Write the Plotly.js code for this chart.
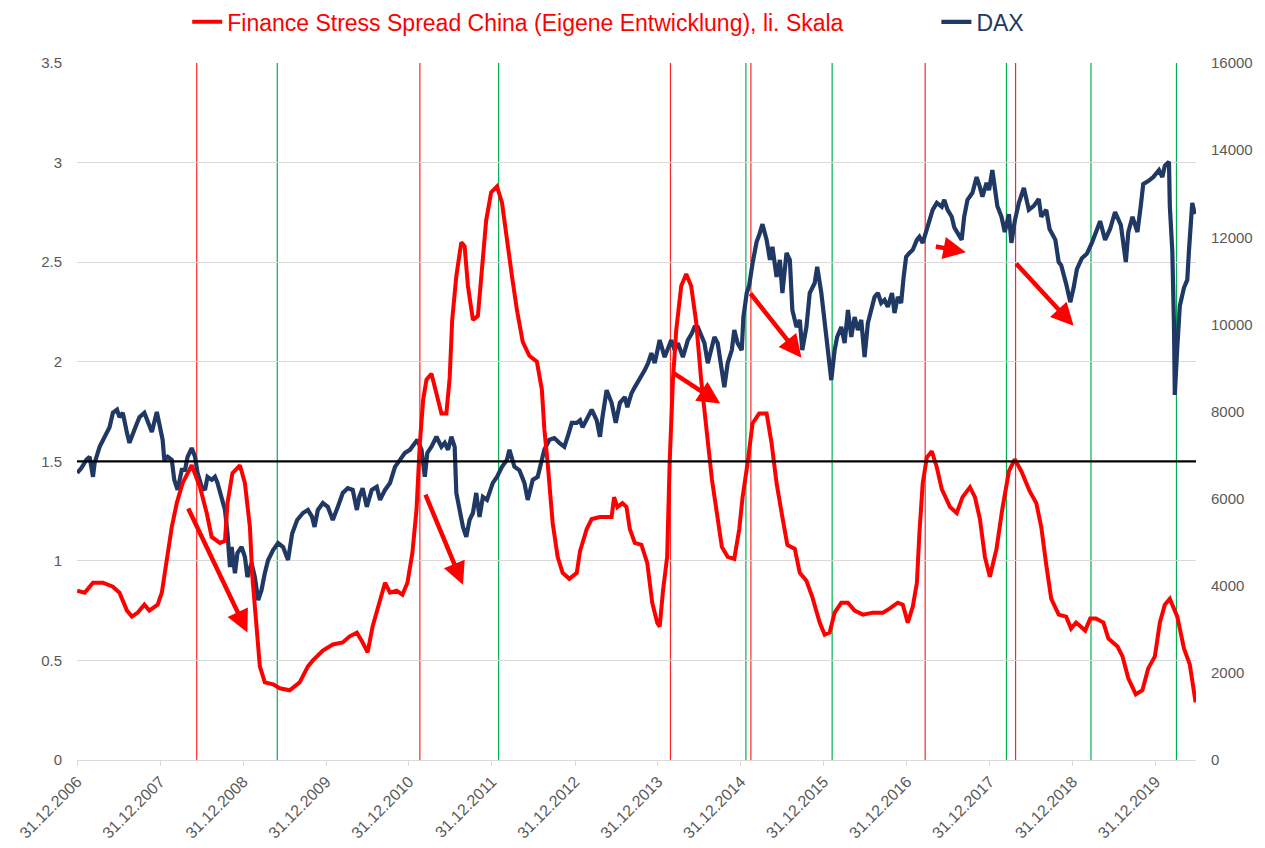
<!DOCTYPE html>
<html><head><meta charset="utf-8">
<script src="https://cdn.plot.ly/plotly-3.0.1.min.js"></script>
<style>html,body{margin:0;padding:0;background:#fff;} #chart{width:1265px;height:848px;}</style>
</head><body><div id="chart"></div>
<script>
// Finance Stress Spread China (left axis), time in decimal years
const stressT = [2007.00,2007.09,2007.19,2007.31,2007.43,2007.51,2007.60,2007.66,2007.73,2007.81,2007.87,2007.97,
2008.02,2008.08,2008.14,2008.20,2008.27,2008.38,2008.48,2008.56,2008.62,2008.72,2008.78,2008.81,2008.87,2008.96,
2009.02,2009.08,2009.11,2009.16,2009.20,2009.26,2009.36,2009.44,2009.56,2009.68,2009.78,2009.84,2009.96,
2010.08,2010.20,2010.28,2010.37,2010.44,2010.50,2010.56,2010.65,2010.71,2010.77,2010.85,2010.92,2010.98,
2011.04,2011.09,2011.13,2011.17,2011.21,2011.27,2011.33,2011.39,2011.45,2011.49,2011.52,2011.57,2011.63,2011.67,2011.71,2011.77,2011.83,2011.87,2011.93,2011.99,
2012.06,2012.12,2012.18,2012.24,2012.30,2012.37,2012.45,2012.54,2012.60,2012.63,2012.67,2012.73,2012.79,2012.85,2012.93,
2013.02,2013.06,2013.14,2013.20,2013.30,2013.38,2013.44,2013.47,2013.51,2013.57,2013.62,2013.66,2013.72,2013.80,2013.87,2013.93,2013.99,
2014.02,2014.06,2014.11,2014.14,2014.18,2014.22,2014.28,2014.34,2014.40,2014.46,2014.52,2014.58,2014.65,2014.71,2014.77,2014.84,2014.92,2014.98,
2015.02,2015.08,2015.14,2015.22,2015.31,2015.37,2015.43,2015.50,2015.56,2015.65,2015.71,2015.79,2015.86,2015.95,
2016.01,2016.07,2016.13,2016.21,2016.29,2016.37,2016.47,2016.59,2016.71,2016.79,2016.89,2016.95,
2017.01,2017.07,2017.12,2017.15,2017.19,2017.24,2017.30,2017.36,2017.42,2017.52,2017.60,2017.67,2017.76,2017.82,2017.88,2017.94,
2018.00,2018.08,2018.15,2018.23,2018.30,2018.38,2018.48,2018.56,2018.62,2018.68,2018.74,2018.83,2018.92,2018.98,
2019.04,2019.15,2019.21,2019.28,2019.37,2019.43,2019.54,2019.60,2019.67,2019.76,2019.84,2019.91,2019.99,
2020.05,2020.11,2020.17,2020.26,2020.34,2020.41,2020.48];
const stressV = [0.85,0.84,0.89,0.89,0.87,0.84,0.75,0.72,0.74,0.78,0.75,0.78,
0.84,1.01,1.17,1.29,1.39,1.48,1.37,1.24,1.12,1.09,1.10,1.29,1.44,1.48,
1.39,1.17,0.92,0.67,0.47,0.39,0.38,0.36,0.35,0.39,0.47,0.50,0.55,
0.58,0.59,0.62,0.64,0.59,0.54,0.67,0.80,0.89,0.84,0.85,0.83,0.89,
1.04,1.26,1.59,1.81,1.91,1.94,1.84,1.74,1.74,1.92,2.21,2.43,2.60,2.58,2.38,2.21,2.23,2.43,2.71,2.85,
2.88,2.80,2.60,2.43,2.26,2.10,2.03,2.00,1.86,1.66,1.49,1.19,1.02,0.94,0.91,
0.94,1.05,1.16,1.21,1.22,1.22,1.22,1.32,1.27,1.29,1.27,1.16,1.09,1.08,0.99,0.79,0.69,
0.67,0.85,1.02,1.49,1.91,2.16,2.38,2.44,2.38,2.20,1.91,1.66,1.41,1.24,1.07,1.02,1.01,1.16,
1.32,1.49,1.69,1.74,1.74,1.59,1.39,1.22,1.08,1.06,0.94,0.90,0.82,0.69,
0.63,0.64,0.74,0.79,0.79,0.75,0.73,0.74,0.74,0.76,0.79,0.78,
0.69,0.77,0.89,1.14,1.39,1.52,1.55,1.47,1.36,1.27,1.24,1.32,1.37,1.32,1.21,1.02,
0.92,1.06,1.26,1.45,1.51,1.45,1.35,1.29,1.17,0.98,0.81,0.73,0.72,0.66,
0.69,0.65,0.71,0.71,0.69,0.61,0.57,0.52,0.41,0.33,0.35,0.46,0.52,
0.69,0.78,0.81,0.72,0.56,0.48,0.29];

// DAX (right axis)
const daxT = [2007.00,2007.05,2007.11,2007.15,2007.19,2007.21,2007.27,2007.33,2007.39,2007.43,2007.48,2007.51,2007.55,2007.60,2007.63,2007.69,2007.75,2007.81,2007.85,2007.90,2007.96,2007.99,
2008.03,2008.05,2008.09,2008.14,2008.17,2008.21,2008.26,2008.30,2008.33,2008.38,2008.42,2008.45,2008.50,2008.54,2008.57,2008.62,2008.66,2008.69,2008.74,2008.78,2008.81,2008.84,2008.86,2008.90,2008.93,2008.98,
2009.02,2009.05,2009.10,2009.14,2009.18,2009.22,2009.26,2009.30,2009.36,2009.42,2009.48,2009.54,2009.59,2009.65,2009.72,2009.78,2009.83,2009.86,2009.90,2009.96,
2010.02,2010.08,2010.14,2010.20,2010.26,2010.32,2010.37,2010.40,2010.44,2010.49,2010.55,2010.61,2010.65,2010.71,2010.77,2010.83,2010.89,2010.95,
2011.01,2011.07,2011.10,2011.15,2011.19,2011.22,2011.27,2011.33,2011.39,2011.43,2011.47,2011.51,2011.55,2011.57,2011.61,2011.65,2011.69,2011.73,2011.77,2011.81,2011.85,2011.89,2011.94,2011.97,
2012.01,2012.06,2012.12,2012.18,2012.21,2012.27,2012.33,2012.39,2012.43,2012.49,2012.55,2012.60,2012.63,2012.69,2012.75,2012.81,2012.87,2012.91,2012.96,
2013.02,2013.06,2013.09,2013.15,2013.20,2013.26,2013.30,2013.33,2013.38,2013.44,2013.49,2013.54,2013.60,2013.63,2013.68,2013.72,2013.75,2013.80,2013.84,2013.88,2013.92,2013.96,
2014.02,2014.08,2014.12,2014.16,2014.20,2014.24,2014.30,2014.36,2014.41,2014.44,2014.48,2014.53,2014.56,2014.60,2014.65,2014.68,2014.72,2014.77,2014.80,2014.84,2014.89,2014.92,2014.96,
2015.01,2015.03,2015.07,2015.10,2015.14,2015.19,2015.22,2015.26,2015.31,2015.35,2015.38,2015.43,2015.47,2015.50,2015.55,2015.59,2015.62,2015.67,2015.71,2015.74,2015.79,2015.83,2015.89,2015.92,2015.97,
2016.01,2016.04,2016.09,2016.13,2016.16,2016.21,2016.25,2016.29,2016.33,2016.37,2016.41,2016.45,2016.49,2016.53,2016.57,2016.61,2016.65,2016.69,2016.73,2016.77,2016.82,2016.85,2016.89,2016.93,2016.96,2016.99,
2017.03,2017.07,2017.12,2017.15,2017.19,2017.24,2017.27,2017.31,2017.36,2017.42,2017.45,2017.49,2017.54,2017.57,2017.61,2017.66,2017.69,2017.73,2017.79,2017.84,2017.88,2017.91,2017.96,2017.99,
2018.03,2018.09,2018.14,2018.18,2018.23,2018.26,2018.30,2018.35,2018.41,2018.47,2018.53,2018.59,2018.62,2018.68,2018.72,2018.79,2018.83,2018.86,2018.92,2018.97,
2019.01,2019.05,2019.11,2019.17,2019.23,2019.29,2019.33,2019.39,2019.45,2019.51,2019.58,2019.64,2019.67,2019.72,2019.78,2019.82,2019.85,2019.91,2019.97,
2020.04,2020.08,2020.11,2020.16,2020.17,2020.20,2020.22,2020.23,2020.26,2020.29,2020.34,2020.38,2020.40,2020.44,2020.47];
const daxV = [6590,6700,6890,6960,6500,6820,7190,7420,7640,7970,8040,7870,7970,7510,7280,7580,7870,7970,7800,7530,7990,7740,
7350,6890,6960,6890,6430,6200,6660,6660,6960,7160,6960,6590,6270,6200,6500,6430,6500,6360,6040,5740,5210,4430,4890,4290,4750,4890,
4660,4200,4520,4200,3670,3900,4290,4590,4820,4980,4890,4590,5200,5510,5670,5740,5580,5350,5740,5900,
5810,5510,5810,6130,6240,6200,5740,6040,6240,5810,6200,6270,5970,6200,6360,6730,6890,7050,
7120,7280,7350,7120,6500,7050,7190,7420,7190,7280,7120,7420,7190,6130,5740,5350,5120,5510,5670,6130,5580,6040,5970,6130,
6360,6500,6730,6890,7120,6730,6650,6360,5970,6430,6500,6890,7120,7350,7390,7280,7190,7420,7740,
7740,7800,7640,7870,8040,7800,7420,7870,8490,8200,7740,8200,8330,8100,8420,8560,8650,8790,8950,9110,9340,9110,
9640,9250,9480,9640,9410,9570,9250,9640,9800,9940,9940,9710,9570,9110,9480,9710,9570,8950,8560,9110,9410,9870,9570,
9410,10170,10720,10900,11400,11900,12050,12300,11940,11480,11780,11090,11480,10720,11640,11480,10330,9940,10100,9410,9940,10720,10950,11320,10720,
10030,9710,8720,9410,9710,9940,9570,10330,9710,10170,9870,10100,9250,10030,10330,10630,10720,10490,10560,10400,10720,10260,10630,10490,11090,11550,
11640,11710,11940,12010,11870,12170,12330,12630,12790,12700,12860,12630,12470,12230,12100,11940,12470,12860,13020,13380,13150,12930,13250,13080,
13540,12720,12470,12120,12530,11870,12370,12790,13130,12630,12720,12880,12470,12630,12190,11940,11430,11360,10930,10510,
10840,11270,11520,11620,11870,12190,12370,11940,12190,12580,12280,11430,12120,12470,12120,12720,13220,13290,13380,
13540,13380,13640,13730,12720,11680,9990,8380,9480,10420,10840,11020,11680,12790,12530];

// Signal markers (decimal years)
const redSignalT = [2008.44, 2011.13, 2014.15, 2015.12, 2017.22, 2018.31];
const greenSignalT = [2009.41, 2012.08, 2015.06, 2016.10, 2018.20, 2019.22, 2020.25];
const thresholdLevel = 1.5;

// Trend arrows (tail -> head), left-axis units
const arrowTailT = [2008.33, 2011.19, 2014.16, 2015.10, 2017.33, 2018.30];
const arrowTailV = [1.27, 1.34, 1.95, 2.35, 2.58, 2.50];
const arrowHeadT = [2009.05, 2011.65, 2014.75, 2015.73, 2017.71, 2019.01];
const arrowHeadV = [0.64, 0.88, 1.79, 2.02, 2.55, 2.18];

const tickDates = ['2006-12-31','2007-12-31','2008-12-31','2009-12-31','2010-12-31','2011-12-31','2012-12-31',
'2013-12-31','2014-12-31','2015-12-31','2016-12-31','2017-12-31','2018-12-31','2019-12-31'];
const tickLabels = ['31.12.2006','31.12.2007','31.12.2008','31.12.2009','31.12.2010','31.12.2011','31.12.2012',
'31.12.2013','31.12.2014','31.12.2015','31.12.2016','31.12.2017','31.12.2018','31.12.2019'];

const xStart = '2006-12-31';
const xEndT = 2020.485;

function toDate(t){
  const y = Math.floor(t);
  const s = Date.UTC(y,0,1), e = Date.UTC(y+1,0,1);
  return new Date(s + (t - y) * (e - s)).toISOString().slice(0,19).replace('T',' ');
}

const RED = '#FF0000', NAVY = '#1F3864', GREEN = '#00B050';

const traces = [
  {type:'scatter', mode:'lines', name:'<span style="color:#1F3864">DAX</span>',
   x: daxT.map(toDate), y: daxV, yaxis:'y', legend:'legend2',
   line:{color:NAVY, width:4.2}, hoverinfo:'x+y'},
  {type:'scatter', mode:'lines', name:'<span style="color:#FF0000">Finance Stress Spread China (Eigene Entwicklung), li. Skala</span>',
   x: stressT.map(toDate), y: stressV, yaxis:'y2', legend:'legend',
   line:{color:RED, width:4}, hoverinfo:'x+y'}
];

const shapes = [];
redSignalT.forEach(t => shapes.push({type:'line', xref:'x', yref:'paper', x0:toDate(t), x1:toDate(t), y0:0, y1:1, layer:'below', line:{color:'rgba(255,0,0,0.85)', width:1.2}}));
greenSignalT.forEach(t => shapes.push({type:'line', xref:'x', yref:'paper', x0:toDate(t), x1:toDate(t), y0:0, y1:1, layer:'below', line:{color:GREEN, width:1.2}}));
shapes.push({type:'line', xref:'paper', yref:'y2', x0:0, x1:1, y0:thresholdLevel, y1:thresholdLevel, layer:'above', line:{color:'#000000', width:2.2}});

const annotations = arrowTailT.map((t,i) => ({
  xref:'x', yref:'y2', axref:'x', ayref:'y2',
  x: toDate(arrowHeadT[i]), y: arrowHeadV[i], ax: toDate(t), ay: arrowTailV[i],
  text:'', showarrow:true, arrowhead:2, arrowsize:1, arrowwidth:4.5, arrowcolor:RED
}));

const legendFont = {size:23, family:'"Liberation Sans", Arial, sans-serif'};
const layout = {
  width:1265, height:848,
  margin:{l:77, r:69, t:63, b:88, autoexpand:false},
  paper_bgcolor:'#ffffff', plot_bgcolor:'#ffffff',
  font:{family:'"Liberation Sans", Arial, sans-serif', color:'#595959', size:15},
  showlegend:true,
  legend:{orientation:'h', x:0.0985, xanchor:'left', y:1.059, yanchor:'middle',
          font:legendFont, bgcolor:'rgba(0,0,0,0)', itemwidth:30},
  legend2:{orientation:'h', x:0.768, xanchor:'left', y:1.059, yanchor:'middle',
          font:legendFont, bgcolor:'rgba(0,0,0,0)', itemwidth:30},
  xaxis:{type:'date', range:[xStart, toDate(xEndT)], tickvals:tickDates.map(d=>d+' 12:00'), ticktext:tickLabels,
         tickangle:-45, ticks:'outside', ticklen:5, tickcolor:'#D9D9D9', showline:true, linecolor:'#D9D9D9', linewidth:1,
         showgrid:false, zeroline:false, tickfont:{size:16, color:'#595959'}},
  yaxis:{side:'right', range:[0,16000], dtick:2000, tick0:0, tickformat:'d', showgrid:false, zeroline:false,
         showline:false, ticks:'', ticklabelstandoff:14, tickfont:{size:15, color:'#595959'}},
  yaxis2:{side:'left', overlaying:'y', range:[0,3.5], dtick:0.5, tick0:0, showgrid:true, gridcolor:'#D9D9D9', gridwidth:1,
          zeroline:false, showline:false, ticks:'', ticklabelstandoff:14, tickfont:{size:15, color:'#595959'}},
  shapes: shapes,
  annotations: annotations
};

Plotly.newPlot('chart', traces, layout, {displayModeBar:false, staticPlot:true});
</script></body></html>
